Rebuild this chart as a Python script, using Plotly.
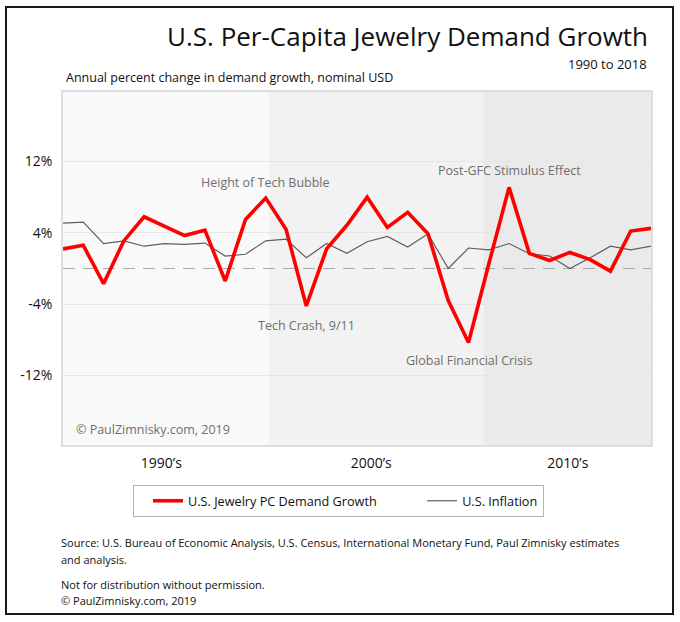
import plotly.graph_objects as go

# ---------------- data ----------------
years = list(range(1989, 2019))
jewelry_growth = [2.2, 2.6, -1.7, 3.1, 5.8, 4.8, 3.7, 4.3, -1.4, 5.5,
                  7.9, 4.4, -4.2, 2.2, 4.85, 8.0, 4.6, 6.3, 3.9, -3.6,
                  -8.3, 0.5, 9.1, 1.7, 0.9, 1.8, 1.0, -0.3, 4.2, 4.5]
inflation = [5.1, 5.2, 2.8, 3.1, 2.5, 2.8, 2.7, 2.85, 1.4, 1.6,
             3.1, 3.3, 1.2, 2.8, 1.7, 3.0, 3.6, 2.4, 3.9, 0.0,
             2.3, 2.1, 2.8, 1.65, 1.4, 0.0, 1.2, 2.5, 2.1, 2.5]

decade_labels = ["1990\u2019s", "2000\u2019s", "2010\u2019s"]
decade_label_pos = [1993.85, 2004.2, 2013.9]
decade_bands = [(1989, 1999.14), (1999.14, 2009.73), (2009.73, 2018)]
band_colors = ["#f9f9f9", "#f2f2f2", "#eaeaea"]

y_tickvals = [-12, -4, 4, 12]
y_ticktext = ["-12%", "-4%", "4%", "12%"]

events = [("Height of Tech Bubble", 1999, 9.65),
          ("Tech Crash, 9/11", 2001, -6.4),
          ("Post-GFC Stimulus Effect", 2011, 10.95),
          ("Global Financial Crisis", 2009, -10.35)]

FONT = "Open Sans"
NBSP = "\u00a0"

fig = go.Figure()
fig.add_trace(go.Scatter(x=years, y=inflation, mode="lines", name="U.S. Inflation",
                         line=dict(color="#5e5e5e", width=1.2)))
fig.add_trace(go.Scatter(x=years, y=jewelry_growth, mode="lines",
                         name="U.S. Jewelry PC Demand Growth" + NBSP * 8,
                         line=dict(color="#ff0000", width=3.6)))

shapes = []
for (x0, x1), c in zip(decade_bands, band_colors):
    shapes.append(dict(type="rect", xref="x", yref="paper", x0=x0, x1=x1, y0=0, y1=1,
                       fillcolor=c, line=dict(width=0), layer="below"))
shapes.append(dict(type="line", xref="paper", yref="y", x0=0, x1=1, y0=0, y1=0,
                   line=dict(color="#a8a8a8", width=1.2, dash="12px,8px"), layer="below"))
# outer frame
W, H = 680, 622
L, R, T, B = 63, 29, 92, 177
pw, ph = W - L - R, H - T - B
def px(x): return (x - L) / pw
def py(y): return (H - B - y) / ph
shapes.append(dict(type="rect", xref="paper", yref="paper",
                   x0=px(6), x1=px(673), y0=py(614), y1=py(7),
                   line=dict(color="#1a1a1a", width=2), fillcolor="rgba(0,0,0,0)"))

annotations = []
for text, x, y in events:
    annotations.append(dict(text=text, x=x, y=y, xref="x", yref="y", showarrow=False,
                            xanchor="center", yanchor="middle",
                            font=dict(family=FONT, size=12.5, color="#6e6e6e")))
annotations.append(dict(text="\u00a9 PaulZimnisky.com, 2019", x=px(74), y=py(429),
                        xref="paper", yref="paper", xanchor="left", yanchor="middle",
                        showarrow=False,
                        font=dict(family=FONT, size=12.5, color="#6e6e6e")))
annotations.append(dict(text="U.S. Per-Capita Jewelry Demand Growth", x=px(650), y=py(36),
                        xref="paper", yref="paper", xanchor="right", yanchor="middle",
                        showarrow=False,
                        font=dict(family=FONT, size=26, color="#111111")))
annotations.append(dict(text="1990 to 2018", x=px(649), y=py(64),
                        xref="paper", yref="paper", xanchor="right", yanchor="middle",
                        showarrow=False,
                        font=dict(family=FONT, size=13, color="#111111")))
annotations.append(dict(text="Annual percent change in demand growth, nominal USD",
                        x=px(64), y=py(78), xref="paper", yref="paper", xanchor="left",
                        yanchor="middle", showarrow=False,
                        font=dict(family=FONT, size=12.5, color="#111111")))
footer = [("Source: U.S. Bureau of Economic Analysis, U.S. Census, International Monetary Fund, Paul Zimnisky estimates", 542),
          ("and analysis.", 559),
          ("Not for distribution without permission.", 584),
          ("\u00a9 PaulZimnisky.com, 2019", 600)]
for text, yy in footer:
    annotations.append(dict(text=text, x=px(61), y=py(yy), xref="paper", yref="paper",
                            xanchor="left", yanchor="middle", xshift=-2, showarrow=False,
                            font=dict(family=FONT, size=11, color="#111111")))

fig.update_layout(
    width=W, height=H,
    margin=dict(l=L, r=R, t=T, b=B, pad=0),
    paper_bgcolor="white", plot_bgcolor="white",
    font=dict(family=FONT, color="#111111"),
    shapes=shapes, annotations=annotations,
    showlegend=True,
    legend=dict(orientation="h", x=px(133), y=py(485), xanchor="left", yanchor="top",
                bordercolor="#b4b4b4", borderwidth=1, bgcolor="white",
                traceorder="reversed", indentation=14,
                font=dict(family=FONT, size=12.7, color="#111111")),
    xaxis=dict(range=[1989, 2018], tickvals=decade_label_pos, ticktext=decade_labels,
               showgrid=False, zeroline=False, ticks="outside", ticklen=4,
               tickcolor="rgba(0,0,0,0)", showline=True, mirror=True,
               linecolor="#dedede", linewidth=1.5,
               tickfont=dict(family=FONT, size=14, color="#111111")),
    yaxis=dict(range=[-19.8, 19.8], tickvals=y_tickvals, ticktext=y_ticktext,
               showgrid=True, gridcolor="#e6e6e6", gridwidth=1, zeroline=False,
               ticks="outside", ticklen=6, tickcolor="rgba(0,0,0,0)",
               showline=True, mirror=True, linecolor="#dedede", linewidth=1.5,
               tickfont=dict(family=FONT, size=14, color="#111111")),
)

fig.write_html("out.html", config={"displayModeBar": False},
               post_script="document.body.style.margin='0';"
                           "document.documentElement.style.overflow='hidden';")
